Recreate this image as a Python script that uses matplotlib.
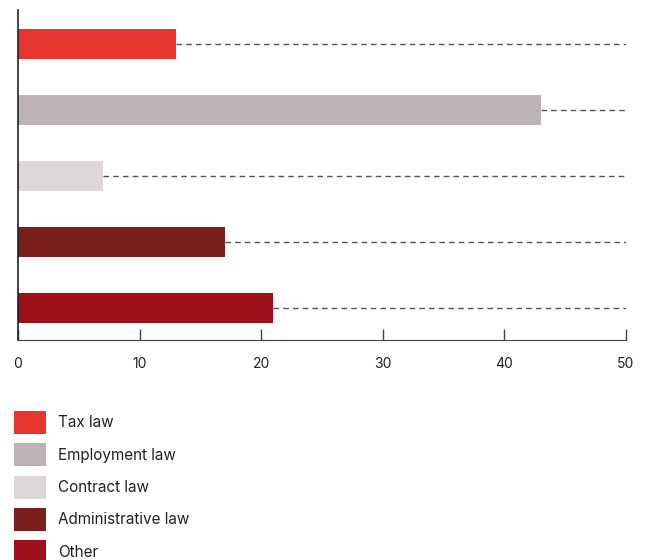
import matplotlib
matplotlib.use('Agg')
import matplotlib.pyplot as plt
from matplotlib.patches import Patch

categories = ['Tax law', 'Employment law', 'Contract law', 'Administrative law', 'Other']
values = [13, 43, 7, 17, 21]
colors = ['#E8352F', '#BEB3B4', '#DDD7DC', '#7A1F1D', '#A0101A']
xticks = [0, 10, 20, 30, 40, 50]
xmax = 50

plt.rcParams['font.family'] = ['Inter', 'DejaVu Sans']

fig = plt.figure(figsize=(6.48, 5.6), dpi=100)
ax = fig.add_axes([18 / 648, 1 - 340 / 560, 608 / 648, 330 / 560])

pos = list(range(len(categories)))
ax.barh(pos, values, height=0.455, color=colors, zorder=2)

# dashed guide from each bar end to the right edge
for p, v in zip(pos, values):
    ax.plot([v, xmax], [p, p], color='#555555', lw=1, ls=(0, (4, 3)), zorder=1)

ax.set_xlim(0, xmax)
ax.set_ylim(len(categories) - 0.515, -0.515)
ax.set_xticks(xticks)
ax.set_yticks([])
ax.tick_params(axis='x', direction='in', length=8, width=1, color='#444444',
               labelsize=10, labelcolor='#222222', pad=12)
for s in ['top', 'right']:
    ax.spines[s].set_visible(False)
ax.spines['left'].set_color('#222222')
ax.spines['bottom'].set_color('#444444')
ax.spines['left'].set_linewidth(1.2)

handles = [Patch(facecolor=c, edgecolor='none') for c in colors]
fig.legend(handles, categories, loc='upper left',
           bbox_to_anchor=(14 / 648, 1 - 411 / 560), frameon=False,
           fontsize=11, handlelength=2.09, handleheight=1.94,
           labelspacing=0.61, handletextpad=0.79, borderpad=0,
           borderaxespad=0, labelcolor='#222222')

fig.savefig('out.png', dpi=100)
